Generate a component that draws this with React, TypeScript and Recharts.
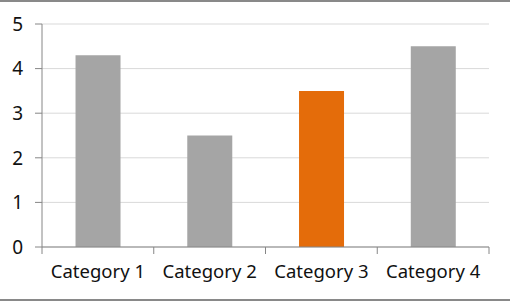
import { BarChart, Bar, XAxis, YAxis, CartesianGrid, Cell } from 'recharts';

const categories = ['Category 1', 'Category 2', 'Category 3', 'Category 4'];
const values = [4.3, 2.5, 3.5, 4.5];
const highlighted = ['Category 3'];
const yTicks = [0, 1, 2, 3, 4, 5];

const data = categories.map((name, i) => ({ name, value: values[i] }));

const AXIS = '#868686';
const FONT = '"Noto Sans", sans-serif';

// category axis: labels at the centre, tick marks on the band edges
function CategoryTick(props: any) {
  const { x, y, payload, index, visibleTicksCount } = props;
  const half = payload?.offset ?? 0;
  const top = y - 19;
  const bottom = y - 12;
  return (
    <g>
      <line x1={x - half} x2={x - half} y1={top} y2={bottom} stroke={AXIS} />
      {index === visibleTicksCount - 1 && (
        <line x1={x + half} x2={x + half} y1={top} y2={bottom} stroke={AXIS} />
      )}
      <text x={x} y={y - 1} dy="0.71em" textAnchor="middle" fill="#111" fontSize={18.5} fontFamily={FONT}>
        {payload.value}
      </text>
    </g>
  );
}

export default function App() {
  return (
    <div
      style={{
        width: 510,
        height: 301,
        boxSizing: 'border-box',
        borderTop: '2px solid #898989',
        borderBottom: '2px solid #898989',
        background: '#fff',
      }}
    >
      <style>{'body{margin:0}'}</style>
      <BarChart
        width={510}
        height={297}
        data={data}
        margin={{ top: 22, right: 21, left: 0, bottom: 0 }}
        barCategoryGap="30%"
      >
        <CartesianGrid horizontal vertical={false} stroke="#d9d9d9" />
        <XAxis
          dataKey="name"
          height={52}
          axisLine={{ stroke: AXIS }}
          tickLine={false}
          tickSize={7}
          tickMargin={12}
          interval={0}
          tick={<CategoryTick />}
        />
        <YAxis
          width={42}
          domain={[0, 5]}
          ticks={yTicks}
          interval={0}
          axisLine={{ stroke: AXIS }}
          tickLine={{ stroke: AXIS }}
          tickSize={7}
          tickMargin={12}
          tick={{ fontSize: 19, fill: '#111', fontFamily: FONT }}
        />
        <Bar dataKey="value" isAnimationActive={false}>
          {data.map((d) => (
            <Cell key={d.name} fill={highlighted.includes(d.name) ? '#E46C0A' : '#A5A5A5'} />
          ))}
        </Bar>
      </BarChart>
    </div>
  );
}
